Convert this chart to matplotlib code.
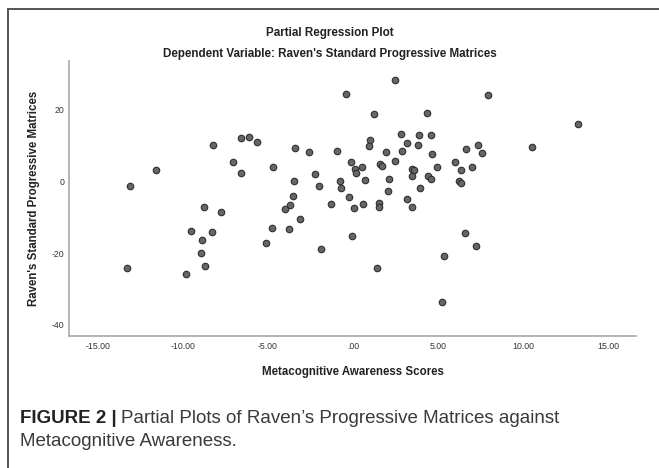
import matplotlib
matplotlib.use("Agg")
import matplotlib.pyplot as plt
from matplotlib.lines import Line2D

# Data (partial regression residuals)
metacog = [-13.07, -11.55, -8.22, -7.03, -6.58, -6.56, -6.09, -5.64, -8.73, -7.73,
           -9.49, -8.30, -8.85, -8.93, -8.67, -9.81, -13.27, 2.45, -0.41, 1.25,
           4.35, 2.82, 3.89, 4.56, 1.00, 3.15, 3.82, 0.94, -3.42, -2.57,
           -0.96, 1.92, 2.90, 4.64, -0.14, 2.48, -4.72, 1.59, 1.68, 0.55,
           0.14, 0.18, 4.93, 3.46, 3.58, -2.23, 3.48, 4.42, 4.58, -3.45,
           -0.75, 0.69, 2.11, -2.02, -0.72, 3.95, 2.04, -3.52, -0.22, 3.19,
           -3.68, -3.99, -1.29, 0.59, 1.51, 1.53, 0.04, 3.44, -4.76, -3.78,
           -3.13, -5.13, -1.88, -0.08, 1.41, 7.95, 13.21, 10.53, 7.32, 6.65,
           7.56, 5.99, 6.97, 6.32, 6.24, 6.32, 6.60, 7.24, 5.32, 5.23]
raven = [-1.2, 3.1, 10.2, 5.5, 2.3, 12.2, 12.5, 11.0, -7.0, -8.5,
         -13.9, -14.0, -16.3, -20.0, -23.5, -25.9, -24.1, 28.3, 24.4, 18.7,
         19.1, 13.2, 12.9, 13.0, 11.6, 10.6, 10.3, 9.8, 9.2, 8.2,
         8.4, 8.3, 8.6, 7.8, 5.4, 5.7, 4.0, 4.8, 4.4, 4.0,
         3.4, 2.5, 4.1, 3.6, 3.3, 2.0, 1.4, 1.5, 0.6, 0.2,
         0.0, 0.4, 0.6, -1.3, -1.8, -1.8, -2.6, -4.0, -4.4, -5.0,
         -6.5, -7.6, -6.2, -6.4, -6.0, -7.1, -7.5, -7.0, -13.1, -13.2,
         -10.5, -17.1, -18.7, -15.3, -24.1, 24.0, 16.1, 9.7, 10.2, 9.1,
         7.9, 5.4, 3.9, 3.2, 0.1, -0.5, -14.5, -18.0, -20.7, -33.5]

x_ticks = [-15, -10, -5, 0, 5, 10, 15]
x_tick_labels = ["-15.00", "-10.00", "-5.00", ".00", "5.00", "10.00", "15.00"]
y_ticks = [-40, -20, 0, 20]
y_tick_labels = ["-40", "-20", "0", "20"]

title1 = "Partial Regression Plot"
title2 = "Dependent Variable: Raven's Standard Progressive Matrices"
xlabel = "Metacognitive Awareness Scores"
ylabel = "Raven's Standard Progressive Matrices"
cap_bold = "FIGURE 2 |"
cap_rest_1 = "Partial Plots of Raven\u2019s Progressive Matrices against"
cap_line2 = "Metacognitive Awareness."

plt.rcParams['font.family'] = ['Liberation Sans', 'DejaVu Sans']

W, H = 659, 468
fig = plt.figure(figsize=(W / 100, H / 100), dpi=100)
fig.patch.set_facecolor('white')

L, R, T, B = 69, 636, 61, 336
ax = fig.add_axes([L / W, 1 - B / H, (R - L) / W, (B - T) / H])
ax.scatter(metacog, raven, s=22, facecolor='#666666', edgecolor='#2e2e2e',
           linewidths=0.8, zorder=3)
ax.set_xlim(-16.68, 16.62)
ax.set_ylim(-43.1, 33.6)
ax.set_xticks(x_ticks)
ax.set_xticklabels(x_tick_labels)
ax.set_yticks(y_ticks)
ax.set_yticklabels(y_tick_labels)
ax.tick_params(length=0, labelsize=6.3, labelcolor='#333333')
ax.tick_params(axis='x', pad=4.5)
ax.tick_params(axis='y', pad=3.5)
for s in ['top', 'right']:
    ax.spines[s].set_visible(False)
for s in ['left', 'bottom']:
    ax.spines[s].set_color('#a8a8a8')
    ax.spines[s].set_linewidth(1.2)

fig.text(0.5, 1 - 33 / H, title1, ha='center', va='center',
         fontsize=8.4, fontweight='bold', color='#222222')
fig.text(0.5, 1 - 54 / H, title2, ha='center', va='center',
         fontsize=8.4, fontweight='bold', color='#222222')
fig.text(0.5 * (L + R) / W, 1 - 372 / H, xlabel, ha='center', va='center',
         fontsize=8.3, fontweight='bold', color='#222222')
fig.text(34 / W, 1 - 198 / H, ylabel, ha='center', va='center', rotation=90,
         fontsize=8.3, fontweight='bold', color='#222222')

# caption
t1 = fig.text(20 / W, 1 - 423 / H, cap_bold, ha='left', va='baseline',
              fontsize=13.5, fontweight='bold', color='#222222')
fig.canvas.draw()
bb = t1.get_window_extent()
fig.text(bb.x1 / W + 4 / W, 1 - 423 / H, cap_rest_1, ha='left', va='baseline',
         fontsize=13.5, color='#3a3a3a')
fig.text(20 / W, 1 - 446 / H, cap_line2, ha='left', va='baseline',
         fontsize=13.5, color='#3a3a3a')

# frame
fig.add_artist(Line2D([8 / W, 1.0], [1 - 9 / H, 1 - 9 / H], color='#555555',
                      linewidth=1.4, transform=fig.transFigure))
fig.add_artist(Line2D([8 / W, 8 / W], [1 - 9 / H, 0], color='#555555',
                      linewidth=1.4, transform=fig.transFigure))

fig.savefig("out.png", dpi=100, facecolor='white')
